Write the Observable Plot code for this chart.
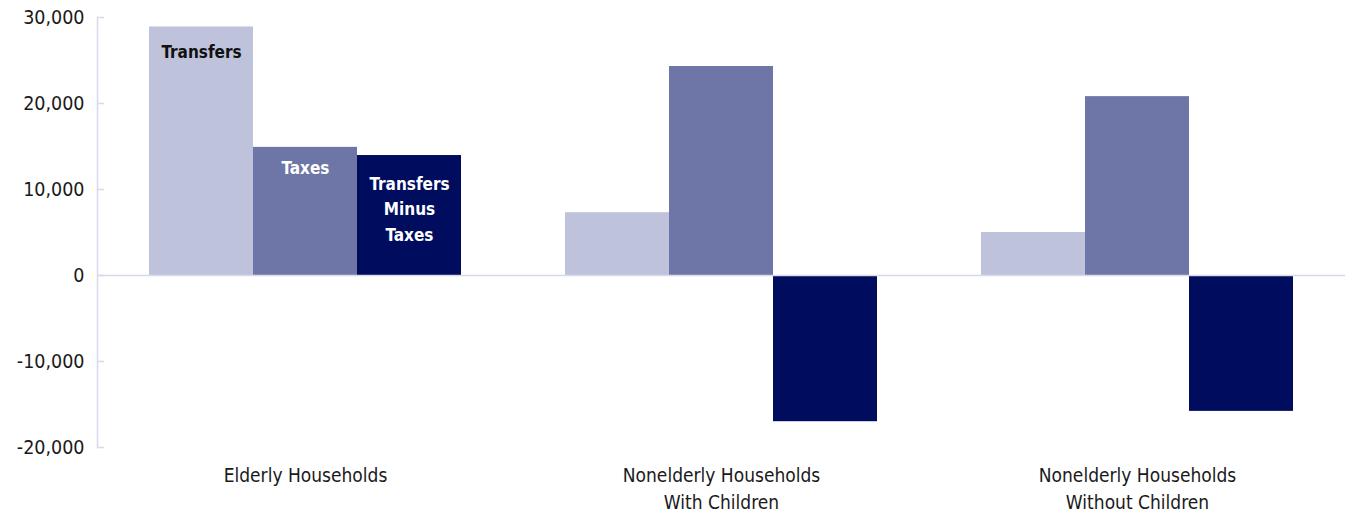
<!DOCTYPE html>
<html>
<head>
<meta charset="utf-8">
<script src="https://cdn.jsdelivr.net/npm/d3@7"></script>
<script src="https://cdn.jsdelivr.net/npm/@observablehq/plot@0.6"></script>
<style>
  html, body { margin: 0; padding: 0; background: #fff; }
  #chart svg { display: block; }
</style>
</head>
<body>
<div id="chart"></div>
<script>
const groups = ["Elderly Households", "Nonelderly Households\nWith Children", "Nonelderly Households\nWithout Children"];
const series = ["Transfers", "Taxes", "Transfers Minus Taxes"];
const transfers = [28900, 7300, 5000];
const taxes = [14900, 24300, 20800];
const net = [13950, -17000, -15800];
const yTicks = [-20000, -10000, 0, 10000, 20000, 30000];
const colors = ["#bfc2db", "#6e76a8", "#000d5e"];
const labelTexts = ["Transfers", "Taxes", "Transfers\nMinus\nTaxes"];

const values = [transfers, taxes, net];
const data = [];
groups.forEach((g, i) => series.forEach((s, j) => data.push({group: g, series: s, value: values[j][i]})));
const labels = series.map((s, j) => ({group: groups[0], series: s, value: values[j][0], text: labelTexts[j]}));

const font = "'Liberation Sans Narrow', 'DejaVu Sans Condensed', sans-serif";
const axisColor = "#d8dae9";

const chart = Plot.plot({
  width: 1349,
  height: 514,
  marginLeft: 96,
  marginRight: 4,
  marginTop: 17,
  marginBottom: 67,
  style: {fontFamily: font, fontSize: "19px", color: "#1a1a1a", background: "#fff"},
  fx: {domain: groups, padding: 0, label: null, axis: null},
  x: {domain: series, paddingInner: 0, paddingOuter: 0.5, axis: null},
  y: {domain: [-20000, 30000], label: null},
  color: {domain: series, range: colors},
  marks: [
    Plot.barY(data, {fx: "group", x: "series", y: "value", fill: "series"}),
    Plot.ruleY([0], {stroke: axisColor, strokeWidth: 1.5}),
    Plot.frame({anchor: "left", facetAnchor: "left", stroke: axisColor, strokeWidth: 1.5}),
    Plot.ruleY(yTicks, {facetAnchor: "left", insetRight: 409, stroke: axisColor, strokeWidth: 1.5}),
    Plot.axisY({ticks: yTicks, tickSize: 0, tickPadding: 13, tickFormat: d => d.toLocaleString("en-US"), label: null, fontSize: 19.5, fill: "#1a1a1a"}),
    Plot.axisFx({anchor: "bottom", tickSize: 0, tickPadding: 16, label: null, fontSize: 19, lineHeight: 1.4, fill: "#1a1a1a"}),
    Plot.text(labels.slice(0, 1), {fx: "group", x: "series", y: "value", text: "text", lineAnchor: "top", dy: 19, fill: "#111", fontWeight: "bold", fontSize: 17, fontFamily: font}),
    Plot.text(labels.slice(1, 2), {fx: "group", x: "series", y: "value", text: "text", lineAnchor: "top", dy: 15, fill: "#fff", fontWeight: "bold", fontSize: 17, fontFamily: font}),
    Plot.text(labels.slice(2, 3), {fx: "group", x: "series", y: "value", text: "text", lineAnchor: "top", dy: 16, lineHeight: 1.5, fill: "#fff", fontWeight: "bold", fontSize: 17, fontFamily: font})
  ]
});
document.getElementById("chart").append(chart);
</script>
</body>
</html>
